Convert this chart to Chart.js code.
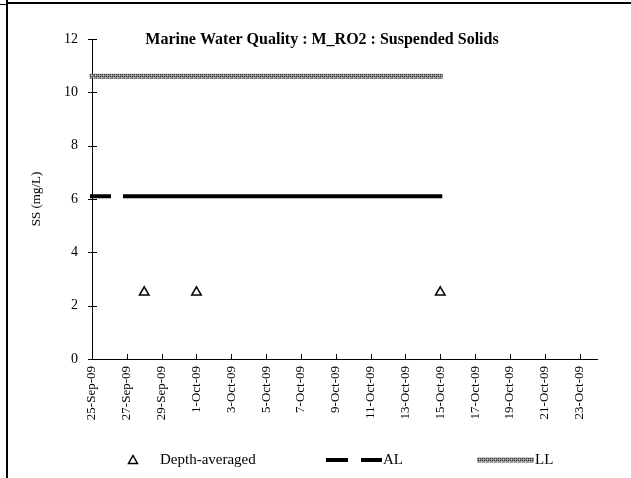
<!DOCTYPE html>
<html>
<head>
<meta charset="utf-8">
<script src="https://cdn.jsdelivr.net/npm/chart.js@4.4.0/dist/chart.umd.min.js"></script>
<style>
  body { margin: 0; background: #fff; }
  #wrap { position: relative; width: 631px; height: 478px; }
  #ssChart { position: absolute; left: 0; top: 0; }
  .rule-top { position: absolute; left: 7px; right: 0; top: 2px; border-top: 2px solid #000; }
  .rule-top-stub { position: absolute; left: 0; width: 7px; top: 4px; border-top: 1px solid #000; }
  .rule-left { position: absolute; left: 6px; top: 0; bottom: 0; border-left: 2px solid #000; }
</style>
</head>
<body>
<div id="wrap">
  <canvas id="ssChart" width="631" height="478"></canvas>
  <div class="rule-top"></div>
  <div class="rule-top-stub"></div>
  <div class="rule-left"></div>
</div>
<script>
// axis span (days)
const axisStart = '2009-09-25';
const axisEnd = '2009-10-24';

// depth-averaged suspended solids, mg/L
const sampleDates = ['2009-09-28', '2009-10-01', '2009-10-15'];
const depthAveraged = [2.5, 2.5, 2.5];

// action / limit levels
const levelDates = ['2009-09-25', '2009-10-15'];
const actionLevel = [6.1, 6.1];
const limitLevel = [10.6, 10.6];

const yTicks = [0, 2, 4, 6, 8, 10, 12];
const monthNames = ['Jan', 'Feb', 'Mar', 'Apr', 'May', 'Jun', 'Jul', 'Aug', 'Sep', 'Oct', 'Nov', 'Dec'];

const DAY = 86400000;
const t0 = Date.parse(axisStart);
const dayOf = d => (Date.parse(d) - t0) / DAY;

function dateLabel(day) {
    const d = new Date(t0 + day * DAY);
    const yy = String(d.getUTCFullYear()).slice(2);
    return d.getUTCDate() + '-' + monthNames[d.getUTCMonth()] + '-' + yy;
}

const toPoints = (dates, values) => dates.map((d, i) => ({ x: dayOf(d), y: values[i] }));

const serif = '"Liberation Serif", "Times New Roman", serif';

// grey stipple used for the LL line
function stipple() {
    const c = document.createElement('canvas');
    c.width = 4; c.height = 4;
    const g = c.getContext('2d');
    g.fillStyle = '#8a8a8a';
    g.fillRect(0, 0, 4, 4);
    g.fillStyle = '#333';
    g.fillRect(0, 0, 1, 1); g.fillRect(2, 2, 1, 1);
    g.fillRect(2, 0, 1, 1); g.fillRect(0, 2, 1, 1);
    g.fillStyle = '#dcdcdc';
    g.fillRect(1, 1, 1, 1); g.fillRect(3, 3, 1, 1);
    return g.createPattern(c, 'repeat');
}
const llPattern = stipple();
const alDash = [17, 16, 1000, 0];

// tick marks that cross the axis lines
const crossTicks = {
    id: 'crossTicks',
    afterDatasetsDraw(chart) {
        const { ctx, chartArea: a, scales: { x, y } } = chart;
        ctx.save();
        ctx.strokeStyle = '#000';
        ctx.lineWidth = 1;
        ctx.beginPath();
        y.ticks.forEach(t => {
            const py = Math.round(y.getPixelForValue(t.value)) + 0.5;
            ctx.moveTo(a.left - 4, py);
            ctx.lineTo(a.left + 5, py);
        });
        x.ticks.forEach(t => {
            const px = Math.round(x.getPixelForValue(t.value)) + 0.5;
            ctx.moveTo(px, a.bottom - 5);
            ctx.lineTo(px, a.bottom + 1);
        });
        ctx.stroke();
        ctx.restore();
    }
};

// title and legend row
const labelsPlugin = {
    id: 'labels',
    afterDraw(chart) {
        const ctx = chart.ctx;
        ctx.save();
        ctx.fillStyle = '#000';
        ctx.textBaseline = 'middle';
        ctx.textAlign = 'center';
        ctx.font = 'bold 16px ' + serif;
        ctx.fillText('Marine Water Quality : M_RO2 : Suspended Solids', 322, 40);

        const ly = 460;
        ctx.font = '15px ' + serif;
        ctx.textAlign = 'left';

        // Depth-averaged
        ctx.beginPath();
        ctx.moveTo(133, ly - 4.5);
        ctx.lineTo(137.5, ly + 3.5);
        ctx.lineTo(128.5, ly + 3.5);
        ctx.closePath();
        ctx.lineWidth = 1.5;
        ctx.strokeStyle = '#000';
        ctx.stroke();
        ctx.fillText('Depth-averaged', 160, ly);

        // AL
        ctx.fillRect(326, ly - 2, 22, 4);
        ctx.fillRect(361, ly - 2, 21, 4);
        ctx.fillText('AL', 383, ly);

        // LL
        ctx.fillStyle = llPattern;
        ctx.fillRect(477, ly - 2.5, 57, 5);
        ctx.fillStyle = '#000';
        ctx.fillText('LL', 535, ly);
        ctx.restore();
    }
};

new Chart(document.getElementById('ssChart'), {
    type: 'line',
    data: {
        datasets: [
            {
                label: 'Depth-averaged',
                data: toPoints(sampleDates, depthAveraged),
                showLine: false,
                pointStyle: 'triangle',
                pointRadius: 5.5,
                pointBorderWidth: 1.5,
                pointBorderColor: '#000',
                pointBackgroundColor: '#fff'
            },
            {
                label: 'AL',
                data: toPoints(levelDates, actionLevel),
                borderColor: '#000',
                borderWidth: 4,
                borderDash: alDash,
                borderCapStyle: 'square',
                pointRadius: 0,
                clip: false
            },
            {
                label: 'LL',
                data: toPoints(levelDates, limitLevel),
                borderColor: llPattern,
                borderWidth: 5,
                borderCapStyle: 'square',
                pointRadius: 0,
                clip: false
            }
        ]
    },
    options: {
        responsive: false,
        animation: false,
        layout: { padding: { left: 20, right: 34, top: 39, bottom: 0 } },
        plugins: {
            legend: { display: false },
            title: { display: false },
            tooltip: { enabled: false }
        },
        scales: {
            x: {
                type: 'linear',
                min: 0,
                max: dayOf(axisEnd),
                grid: { display: false, drawTicks: false },
                border: { display: true, color: '#000', width: 1 },
                ticks: {
                    stepSize: 2,
                    includeBounds: false,
                    autoSkip: false,
                    minRotation: 90,
                    maxRotation: 90,
                    padding: 7,
                    color: '#000',
                    font: { family: serif, size: 13 },
                    callback: v => dateLabel(v)
                },
                afterFit: s => { s.height = 119; }
            },
            y: {
                min: 0,
                max: 12,
                grid: { display: false, drawTicks: false },
                border: { display: true, color: '#000', width: 1 },
                afterBuildTicks: s => { s.ticks = yTicks.map(v => ({ value: v })); },
                ticks: {
                    padding: 14,
                    color: '#000',
                    font: { family: serif, size: 14 }
                },
                title: {
                    display: true,
                    text: 'SS (mg/L)',
                    color: '#000',
                    font: { family: serif, size: 13 },
                    padding: { top: 9, bottom: 0 }
                },
                afterFit: s => { s.width = 72; }
            }
        }
    },
    plugins: [crossTicks, labelsPlugin]
});
</script>
</body>
</html>
